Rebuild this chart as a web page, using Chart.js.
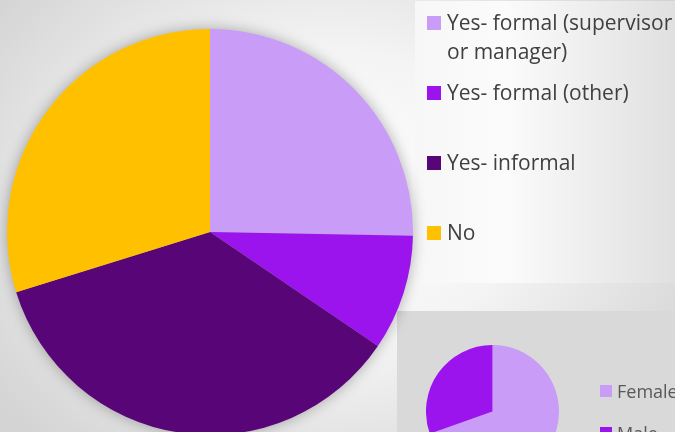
<!DOCTYPE html>
<html>
<head>
<meta charset="utf-8">
<script src="https://cdn.jsdelivr.net/npm/chart.js@4.4.1/dist/chart.umd.min.js"></script>
<style>
  html, body { margin: 0; padding: 0; }
  body {
    width: 675px; height: 432px; overflow: hidden; position: relative;
    background: radial-gradient(ellipse 420px 330px at 330px 200px, #ffffff 0%, #f4f4f4 45%, #d4d4d4 100%);
    font-family: "Open Sans", Lato, sans-serif;
  }
  #legendPanel {
    position: absolute; left: 415px; top: 1px; width: 260px; height: 282px;
    background: linear-gradient(to right, #f7f7f7, #fbfbfb 35%, #e0e0e0);
  }
  #mainWrap {
    position: absolute; left: 7px; top: 29px; width: 406px; height: 406px;
    filter: drop-shadow(0 0 7px rgba(0,0,0,0.3));
  }
  #genderPanel {
    position: absolute; left: 397px; top: 311px; width: 278px; height: 121px;
    background: #d9d9d9;
  }
  #genderWrap {
    position: absolute; left: 426px; top: 345px; width: 133px; height: 133px;
  }
  .legend { position: absolute; list-style: none; margin: 0; padding: 0; white-space: nowrap; }
  .legend li { display: flex; align-items: flex-start; }
  .legend .box { flex: none; }
  #mainLegend { left: 427px; top: 8px; color: #404040; font-size: 21px; line-height: 29px; }
  #mainLegend li { height: 70px; }
  #mainLegend .box { width: 14px; height: 14px; margin-top: 7.5px; margin-right: 6px; }
  #mainLegend .txt { width: 232px; white-space: normal; }
  #genderLegend { left: 600px; top: 379px; color: #595959; font-size: 18px; line-height: 24px; }
  #genderLegend li { height: 41.5px; }
  #genderLegend .box { width: 12px; height: 12px; margin-top: 6px; margin-right: 5px; }
</style>
</head>
<body>
<div id="legendPanel"></div>
<div id="genderPanel"></div>
<div id="mainWrap"><canvas id="mainChart"></canvas></div>
<div id="genderWrap"><canvas id="genderChart"></canvas></div>
<ul id="mainLegend" class="legend"></ul>
<ul id="genderLegend" class="legend"></ul>

<script>
// Main pie
const mentorLabels = ['Yes- formal (supervisor or manager)', 'Yes- formal (other)', 'Yes- informal', 'No'];
const mentorValues = [25.3, 9.2, 35.7, 29.8];
const mentorColors = ['#c89cf7', '#9b14ee', '#580677', '#ffc000'];

// Small pie
const genderLabels = ['Female', 'Male'];
const genderValues = [69.6, 30.4];
const genderColors = ['#c89cf7', '#9b14ee'];

function pieChart(id, labels, values, colors) {
  return new Chart(document.getElementById(id), {
    type: 'pie',
    data: {
      labels: labels,
      datasets: [{
        data: values,
        backgroundColor: colors,
        borderWidth: 0
      }]
    },
    options: {
      responsive: true,
      maintainAspectRatio: false,
      animation: false,
      layout: { padding: 0 },
      plugins: {
        legend: { display: false },
        tooltip: { enabled: false }
      }
    }
  });
}

function buildLegend(chart, listId) {
  const list = document.getElementById(listId);
  const items = chart.options.plugins.legend.labels.generateLabels(chart);
  list.innerHTML = items.map(item => `
    <li><span class="box" style="background:${item.fillStyle}"></span><span class="txt">${item.text}</span></li>
  `).join('');
}

const mainChart = pieChart('mainChart', mentorLabels, mentorValues, mentorColors);
const genderChart = pieChart('genderChart', genderLabels, genderValues, genderColors);
buildLegend(mainChart, 'mainLegend');
buildLegend(genderChart, 'genderLegend');
</script>
</body>
</html>
